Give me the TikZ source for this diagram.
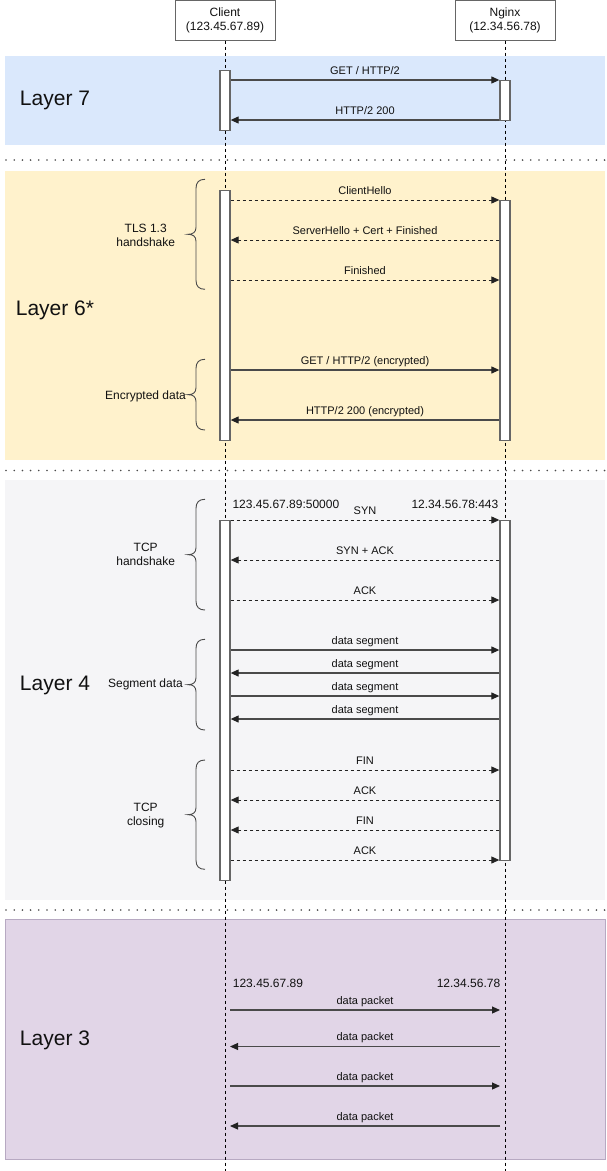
\documentclass[tikz,border=0pt]{standalone}
\usepackage{fontspec}
\setmainfont{Liberation Sans}
\usetikzlibrary{arrows.meta}
\definecolor{bandA}{HTML}{DAE8FC}
\definecolor{bandB}{HTML}{FFF2CC}
\definecolor{bandC}{HTML}{F5F5F7}
\definecolor{bandD}{HTML}{E1D5E7}
\definecolor{bandDline}{HTML}{B7A9C2}
\definecolor{boxline}{HTML}{666666}
\definecolor{msgc}{HTML}{4A4A4A}
\definecolor{tipc}{HTML}{222222}
\definecolor{txtc}{HTML}{111111}
\newcommand{\curlybr}[2]{%
  \pgfmathsetmacro{\bmid}{(#1+#2)/2}%
  \draw[brc] (205,#1) .. controls (199,#1) and (196,#1+3) .. (196,#1+9)
    -- (196,\bmid-7) .. controls (196,\bmid-2) and (193,\bmid) .. (188,\bmid)
    .. controls (193,\bmid) and (196,\bmid+2) .. (196,\bmid+7)
    -- (196,#2-9) .. controls (196,#2-3) and (199,#2) .. (205,#2);%
}
\begin{document}
\begin{tikzpicture}[x=1pt,y=-1pt,
  band/.style={anchor=north west, inner sep=0pt, outer sep=0pt, minimum width=600pt},
  hdr/.style={draw=boxline, fill=white, minimum width=100pt, minimum height=40pt, inner sep=0pt, line width=1pt, align=center, font=\fontsize{12}{14}\selectfont, text=txtc},
  life/.style={line width=0.8pt, dash pattern=on 3pt off 3pt, black},
  sepline/.style={line width=1.8pt, line cap=round, dash pattern=on 0pt off 8.2pt, black!70},
  actbar/.style={draw=boxline, fill=white, minimum width=10pt, inner sep=0pt, line width=1.3pt, anchor=north},
  msg/.style={draw=msgc, line width=1.1pt, -{Triangle[length=8pt,width=7pt,color=tipc]}},
  dmsg/.style={msg, draw=tipc, line width=0.9pt, dash pattern=on 3pt off 3pt},
  lbl/.style={font=\fontsize{11}{13}\selectfont, anchor=base, inner sep=0pt, yshift=6pt, text=txtc},
  layerlbl/.style={font=\fontsize{21}{25}\selectfont, anchor=base, inner sep=0pt, text=txtc},
  brlbl/.style={font=\fontsize{12}{14}\selectfont, align=center, inner sep=0pt, text=txtc},
  addr/.style={font=\fontsize{12}{14}\selectfont, inner sep=0pt, text=txtc},
  brc/.style={draw=msgc, line width=0.9pt}
]
\useasboundingbox (0,0) rectangle (607,1171);
\fill[white] (0,0) rectangle (607,1171);

% bands
\node[band, fill=bandA, minimum height=89.5pt] (b7) at (5,55.5) {};
\node[band, fill=bandB, minimum height=289.3pt] (b6) at (5,170.7) {};
\node[band, fill=bandC, minimum height=420pt] (b4) at (5,480) {};
\node[band, fill=bandD, draw=bandDline, line width=1pt, minimum height=240pt] (b3) at (5,919.5) {};

% separators
\coordinate (s1a) at (6,160);   \coordinate (s1b) at (605,160);
\coordinate (s2a) at (6,470.5); \coordinate (s2b) at (605,470.5);
\coordinate (s3a) at (6,910);   \coordinate (s3b) at (605,910);
\draw[sepline] (s1a) -- (s1b);
\draw[sepline] (s2a) -- (s2b);
\draw[sepline] (s3a) -- (s3b);

% layer labels
\node[layerlbl] (l7) at (55,105.8) {Layer 7};
\node[layerlbl] (l6) at (55,315.8) {Layer 6*};
\node[layerlbl] (l4) at (55,690.8) {Layer 4};
\node[layerlbl] (l3) at (55,1045.8) {Layer 3};

% headers and lifelines
\node[hdr] (client) at (225,20) {Client\\(123.45.67.89)};
\node[hdr] (nginx) at (505,20) {Nginx\\(12.34.56.78)};
\coordinate (cend) at (225,1171);
\coordinate (nend) at (505,1171);
\draw[life] (client.south) -- (cend);
\draw[life] (nginx.south) -- (nend);

% activation bars
\node[actbar, minimum height=60pt] (c7) at (225,70) {};
\node[actbar, minimum height=40pt] (n7) at (505,80) {};
\node[actbar, minimum height=250pt] (c6) at (225,190) {};
\node[actbar, minimum height=240pt] (n6) at (505,200) {};
\node[actbar, minimum height=360pt] (c4) at (225,520) {};
\node[actbar, minimum height=340pt] (n4) at (505,520) {};
\coordinate (c3) at (230,0);
\coordinate (n3) at (500,0);

% message heights
\coordinate (m1) at (0,80);   \coordinate (m2) at (0,120);
\coordinate (m3) at (0,200);  \coordinate (m4) at (0,240);  \coordinate (m5) at (0,280);
\coordinate (m6) at (0,370);  \coordinate (m7) at (0,420);
\coordinate (m8) at (0,520);  \coordinate (m9) at (0,560);  \coordinate (m10) at (0,600);
\coordinate (m11) at (0,650); \coordinate (m12) at (0,673); \coordinate (m13) at (0,696); \coordinate (m14) at (0,719);
\coordinate (m15) at (0,770); \coordinate (m16) at (0,800); \coordinate (m17) at (0,830); \coordinate (m18) at (0,860);
\coordinate (m19) at (0,1010); \coordinate (m20) at (0,1046.5); \coordinate (m21) at (0,1086); \coordinate (m22) at (0,1126);

% Layer 7
\draw[msg] (c7.east |- m1) -- node[lbl]{GET / HTTP/2} (n7.west |- m1);
\draw[msg] (n7.west |- m2) -- node[lbl]{HTTP/2 200} (c7.east |- m2);

% Layer 6
\draw[dmsg] (c6.east |- m3) -- node[lbl]{ClientHello} (n6.west |- m3);
\draw[dmsg] (n6.west |- m4) -- node[lbl]{ServerHello + Cert + Finished} (c6.east |- m4);
\draw[dmsg] (c6.east |- m5) -- node[lbl]{Finished} (n6.west |- m5);
\draw[msg] (c6.east |- m6) -- node[lbl]{GET / HTTP/2 (encrypted)} (n6.west |- m6);
\draw[msg] (n6.west |- m7) -- node[lbl]{HTTP/2 200 (encrypted)} (c6.east |- m7);

% Layer 4
\node[addr, anchor=base west] (caddr4) at (232.3,508) {123.45.67.89:50000};
\node[addr, anchor=base east] (naddr4) at (498.5,508) {12.34.56.78:443};
\draw[dmsg] (c4.east |- m8) -- node[lbl]{SYN} (n4.west |- m8);
\draw[dmsg] (n4.west |- m9) -- node[lbl]{SYN + ACK} (c4.east |- m9);
\draw[dmsg] (c4.east |- m10) -- node[lbl]{ACK} (n4.west |- m10);
\draw[msg] (c4.east |- m11) -- node[lbl]{data segment} (n4.west |- m11);
\draw[msg] (n4.west |- m12) -- node[lbl]{data segment} (c4.east |- m12);
\draw[msg] (c4.east |- m13) -- node[lbl]{data segment} (n4.west |- m13);
\draw[msg] (n4.west |- m14) -- node[lbl]{data segment} (c4.east |- m14);
\draw[dmsg] (c4.east |- m15) -- node[lbl]{FIN} (n4.west |- m15);
\draw[dmsg] (n4.west |- m16) -- node[lbl]{ACK} (c4.east |- m16);
\draw[dmsg] (n4.west |- m17) -- node[lbl]{FIN} (c4.east |- m17);
\draw[dmsg] (c4.east |- m18) -- node[lbl]{ACK} (n4.west |- m18);

% Layer 3
\node[addr, anchor=base west] (caddr3) at (232.7,987.6) {123.45.67.89};
\node[addr, anchor=base east] (naddr3) at (500.4,987.6) {12.34.56.78};
\draw[msg] (c3 |- m19) -- node[lbl]{data packet} (n3 |- m19);
\draw[msg] (n3 |- m20) -- node[lbl]{data packet} (c3 |- m20);
\draw[msg] (c3 |- m21) -- node[lbl]{data packet} (n3 |- m21);
\draw[msg] (n3 |- m22) -- node[lbl]{data packet} (c3 |- m22);

% braces and their labels
\curlybr{179.3}{289.3}
\curlybr{359.3}{430}
\curlybr{499.3}{610}
\curlybr{639.3}{730}
\curlybr{760}{869.3}
\node[brlbl] (tls) at (145.7,235) {TLS 1.3\\handshake};
\node[brlbl, anchor=base east] (enc) at (186,399.3) {Encrypted data};
\node[brlbl] (tcph) at (145.7,554.5) {TCP\\handshake};
\node[brlbl, anchor=base east] (seg) at (183,687.3) {Segment data};
\node[brlbl] (tcpc) at (145.7,815.5) {TCP\\closing};
\end{tikzpicture}
\end{document}
